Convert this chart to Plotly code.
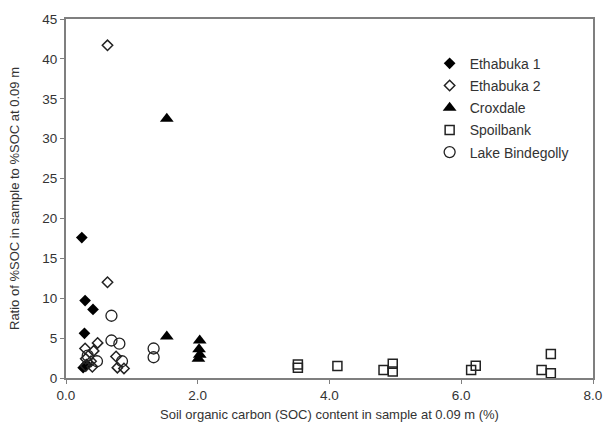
import plotly.graph_objects as go

# Ethabuka 1 (filled diamond)
eth1_x = [0.24, 0.29, 0.41, 0.28, 0.26, 0.31]
eth1_y = [17.6, 9.7, 8.6, 5.6, 1.3, 1.7]
# Ethabuka 2 (open diamond)
eth2_x = [0.63, 0.63, 0.29, 0.48, 0.42, 0.30, 0.38, 0.30, 0.40, 0.76, 0.78, 0.88]
eth2_y = [41.7, 12.0, 3.7, 4.4, 3.4, 2.4, 2.1, 1.5, 1.4, 2.7, 1.3, 1.2]
# Croxdale (filled triangle)
crox_x = [1.53, 1.53, 2.03, 2.02, 2.03, 2.01]
crox_y = [32.5, 5.2, 4.7, 3.6, 2.9, 2.4]
# Spoilbank (open square)
spoil_x = [3.52, 3.52, 4.12, 4.82, 4.96, 4.96, 6.15, 6.22, 7.22, 7.36, 7.36]
spoil_y = [1.7, 1.3, 1.5, 1.0, 1.8, 0.8, 1.0, 1.55, 1.0, 0.6, 3.0]
# Lake Bindegolly (open circle)
lake_x = [0.69, 0.69, 0.81, 1.33, 1.33, 0.85, 0.33, 0.47]
lake_y = [7.8, 4.7, 4.3, 3.7, 2.6, 2.1, 2.8, 2.1]

x_ticks = [0, 2, 4, 6, 8]
x_tick_labels = ["0.0", "2.0", "4.0", "6.0", "8.0"]
y_ticks = [0, 5, 10, 15, 20, 25, 30, 35, 40, 45]

fig = go.Figure()
fig.add_trace(go.Scatter(x=eth1_x, y=eth1_y, mode="markers", name="Ethabuka 1", legendgroup="a",
                         marker=dict(symbol="diamond", size=9, color="black")))
fig.add_trace(go.Scatter(x=eth2_x, y=eth2_y, mode="markers", name="Ethabuka 2", legendgroup="b",
                         marker=dict(symbol="diamond-open", size=8, color="#222",
                                     line=dict(width=1.5))))
fig.add_trace(go.Scatter(x=crox_x, y=crox_y, mode="markers", name="Croxdale", legendgroup="c",
                         marker=dict(symbol="triangle-up", size=12, color="black")))
fig.add_trace(go.Scatter(x=spoil_x, y=spoil_y, mode="markers", name="Spoilbank", legendgroup="d",
                         marker=dict(symbol="square-open", size=9, color="#222",
                                     line=dict(width=1.5))))
fig.add_trace(go.Scatter(x=lake_x, y=lake_y, mode="markers", name="Lake Bindegolly", legendgroup="e",
                         marker=dict(symbol="circle-open", size=11, color="#222",
                                     line=dict(width=1.3))))

axis_common = dict(showline=True, mirror=True, linecolor="#7f7f7f", linewidth=2,
                   ticks="outside", ticklen=4, tickcolor="#7f7f7f",
                   showgrid=False, zeroline=False,
                   tickfont=dict(family="Liberation Sans, Arial", size=13.5, color="#333"))

fig.update_layout(
    width=614, height=432,
    margin=dict(l=66, r=17, t=17, b=51),
    paper_bgcolor="white", plot_bgcolor="white",
    font=dict(family="Liberation Sans, Arial", color="#333"),
    showlegend=True,
    legend=dict(x=0.69, y=0.92, xanchor="left", yanchor="top",
                bgcolor="rgba(0,0,0,0)", font=dict(size=14, color="#333"),
                itemwidth=30, traceorder="grouped", tracegroupgap=1),
    xaxis=dict(range=[0, 8], tickvals=x_ticks, ticktext=x_tick_labels,
               title=dict(text="Soil organic carbon (SOC) content in sample at 0.09 m (%)",
                          font=dict(size=13, color="#333"), standoff=8),
               **axis_common),
    yaxis=dict(range=[0, 45], tickvals=y_ticks,
               title=dict(text="Ratio of %SOC in sample to %SOC at 0.09 m",
                          font=dict(size=13, color="#333"), standoff=20),
               **axis_common),
)

fig.write_html("out.html")
